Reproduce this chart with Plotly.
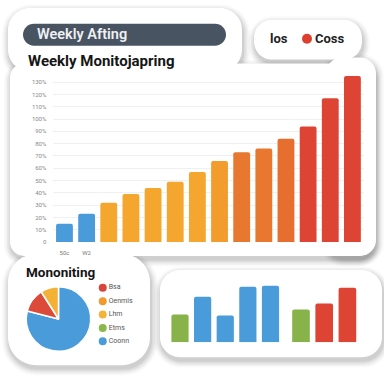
import plotly.graph_objects as go

W = 384

# ---------------- data ----------------
weeks = [f"W{i}" for i in range(1, 15)]
week_values = [15, 23, 32, 39, 44, 49, 57, 66, 73, 76, 84, 94, 117, 135]
week_ticktext = ["50c", "W2"] + [""] * 12
y_tickvals = [0, 10, 20, 30, 40, 50, 60, 70, 80, 90, 100, 110, 120, 130]
y_ticktext = ["0"] + [f"{v}%" for v in y_tickvals[1:]]

pie_labels = ["Coonn", "Bsa", "Lhm"]
pie_values = [79, 12, 9]

legend_labels = ["Bsa", "Oenmis", "Lhm", "Etms", "Coonn"]

small_a_cats = ["A1", "A2", "A3", "A4", "A5"]
small_a_values = [28, 46, 27, 56, 57]
small_b_cats = ["B1", "B2", "B3"]
small_b_values = [33, 39, 55]

header_text = "Weekly Afting"
title_text = "Weekly Monitojapring"
pie_title = "Mononiting"
top_legend = ["los", "Coss"]

# ---------------- styles ----------------
BLUE = "#4a9bd9"
YEL = "#f4a62f"
ORG = "#e8782f"
RED = "#dd4434"
GREEN = "#88b34b"
LEG_COLORS = ["#d9453a", "#f09a2e", "#f3b43a", "#8ab84a", "#4a9bd9"]
week_colors = [BLUE, BLUE, YEL, YEL, YEL, YEL, YEL, "#f19c2d", ORG, ORG, "#e66e2f", RED, RED, RED]
small_a_colors = [GREEN, BLUE, BLUE, BLUE, BLUE]
small_b_colors = [GREEN, RED, RED]


def X(px):
    return px / W


def Y(py):
    return 1 - py / W


def rrect(x0, y0, x1, y1, r):
    k = 0.5523 * r
    p = []
    p.append(f"M{X(x0 + r)},{Y(y0)}")
    p.append(f"L{X(x1 - r)},{Y(y0)}")
    p.append(f"C{X(x1 - r + k)},{Y(y0)} {X(x1)},{Y(y0 + r - k)} {X(x1)},{Y(y0 + r)}")
    p.append(f"L{X(x1)},{Y(y1 - r)}")
    p.append(f"C{X(x1)},{Y(y1 - r + k)} {X(x1 - r + k)},{Y(y1)} {X(x1 - r)},{Y(y1)}")
    p.append(f"L{X(x0 + r)},{Y(y1)}")
    p.append(f"C{X(x0 + r - k)},{Y(y1)} {X(x0)},{Y(y1 - r + k)} {X(x0)},{Y(y1 - r)}")
    p.append(f"L{X(x0)},{Y(y0 + r)}")
    p.append(f"C{X(x0)},{Y(y0 + r - k)} {X(x0 + r - k)},{Y(y0)} {X(x0 + r)},{Y(y0)}")
    p.append("Z")
    return " ".join(p)


cards = [
    (8, 8, 242, 72, 22),
    (10, 64, 372, 258, 14),
    (326, 58, 376, 258, 16),
    (254, 20, 362, 60, 18),
    (8, 256, 150, 368, 28),
    (160, 272, 382, 360, 20),
]

shapes = []
for (x0, y0, x1, y1, r) in cards:
    for e, a in [(7, 0.02), (5.5, 0.03), (4, 0.04), (2.5, 0.05), (1, 0.06)]:
        shapes.append(dict(type="path", xref="paper", yref="paper", layer="below",
                           path=rrect(x0 - e + 1, y0 - e + 3.5, x1 + e + 1, y1 + e + 3.5, r + e),
                           fillcolor=f"rgba(0,0,0,{a})", line=dict(width=0)))
for (x0, y0, x1, y1, r) in cards:
    shapes.append(dict(type="path", xref="paper", yref="paper", layer="below",
                       path=rrect(x0, y0, x1, y1, r), fillcolor="white", line=dict(width=0)))

# header pill
shapes.append(dict(type="path", xref="paper", yref="paper", layer="below",
                   path=rrect(23, 24, 226, 46, 11), fillcolor="#495463", line=dict(width=0)))
# top legend dot
shapes.append(dict(type="circle", xref="paper", yref="paper", layer="above",
                   x0=X(302), x1=X(312), y0=Y(44), y1=Y(34),
                   fillcolor="#dd3f2f", line=dict(width=0)))

fig = go.Figure()

# main weekly bars
fig.add_trace(go.Bar(x=weeks, y=week_values, marker=dict(color=week_colors, line=dict(width=0)),
                     xaxis="x", yaxis="y", showlegend=False, hoverinfo="skip"))

# pie
fig.add_trace(go.Pie(labels=pie_labels, values=pie_values, sort=False, direction="clockwise",
                     rotation=0, marker=dict(colors=[BLUE, "#dc4a3a", "#f3b135"],
                                             line=dict(color="white", width=1.5)),
                     textinfo="none", showlegend=False, hoverinfo="skip",
                     domain=dict(x=[X(26), X(91)], y=[Y(354), Y(289)])))

# pie legend
fig.add_trace(go.Scatter(x=[0] * len(legend_labels), y=list(range(len(legend_labels))),
                         mode="markers+text", text=legend_labels, textposition="middle right",
                         textfont=dict(size=7, color="#555", family="Roboto"),
                         marker=dict(size=8, color=LEG_COLORS),
                         xaxis="x2", yaxis="y2", showlegend=False, hoverinfo="skip"))

# small bars
fig.add_trace(go.Bar(x=small_a_cats, y=small_a_values, marker=dict(color=small_a_colors, line=dict(width=0)),
                     xaxis="x3", yaxis="y3", showlegend=False, hoverinfo="skip"))
fig.add_trace(go.Bar(x=small_b_cats, y=small_b_values, marker=dict(color=small_b_colors, line=dict(width=0)),
                     xaxis="x4", yaxis="y4", showlegend=False, hoverinfo="skip"))

hidden = dict(visible=False, showgrid=False, zeroline=False, fixedrange=True)

annotations = [
    dict(text=header_text, x=X(35), y=Y(35), xref="paper", yref="paper", xanchor="left", yanchor="middle",
         showarrow=False, font=dict(family="Roboto", size=14.5, color="#eef0f2", weight=600)),
    dict(text=title_text, x=X(26), y=Y(61), xref="paper", yref="paper", xanchor="left", yanchor="middle",
         showarrow=False, font=dict(family="Roboto", size=15, color="#151515", weight="bold")),
    dict(text=top_legend[0], x=X(268), y=Y(39), xref="paper", yref="paper", xanchor="left", yanchor="middle",
         showarrow=False, font=dict(family="Roboto", size=13, color="#222", weight="bold")),
    dict(text=top_legend[1], x=X(313), y=Y(39), xref="paper", yref="paper", xanchor="left", yanchor="middle",
         showarrow=False, font=dict(family="Roboto", size=13, color="#222", weight="bold")),
    dict(text=pie_title, x=X(24), y=Y(274), xref="paper", yref="paper", xanchor="left", yanchor="middle",
         showarrow=False, font=dict(family="Roboto", size=13.5, color="#151515", weight="bold")),
]

fig.update_layout(
    width=W, height=W, margin=dict(l=0, r=0, t=0, b=0),
    paper_bgcolor="white", plot_bgcolor="rgba(0,0,0,0)",
    bargap=0.24, barcornerradius=2,
    shapes=shapes, annotations=annotations,
    xaxis=dict(domain=[X(53.4), X(363.5)], tickvals=weeks, ticktext=week_ticktext,
               tickfont=dict(size=6, color="#777", family="Roboto"), showgrid=False, zeroline=False,
               showline=False, ticks="", ticklabelstandoff=6, fixedrange=True, anchor="y"),
    yaxis=dict(domain=[Y(244), Y(70.4)], range=[0, 140], tickvals=y_tickvals, ticktext=y_ticktext,
               tickfont=dict(size=6, color="#888", family="Roboto"), showgrid=True, gridcolor="#f0f0f0",
               gridwidth=1, zeroline=False, showline=False, ticks="", ticklabelstandoff=6,
               fixedrange=True, anchor="x"),
    xaxis2=dict(domain=[X(98), X(150)], range=[-0.5, 5], anchor="y2", **hidden),
    yaxis2=dict(domain=[Y(350.75), Y(283.25)], range=[4.5, -0.5], anchor="x2", **hidden),
    xaxis3=dict(domain=[X(168.7), X(281.8)], anchor="y3", **hidden),
    yaxis3=dict(domain=[Y(345), Y(285)], range=[0, 60], anchor="x3", **hidden),
    xaxis4=dict(domain=[X(289.4), X(359)], anchor="y4", **hidden),
    yaxis4=dict(domain=[Y(345), Y(285)], range=[0, 60], anchor="x4", **hidden),
)

fig.write_html(
    "out.html",
    config={"displayModeBar": False, "staticPlot": True},
    post_script="document.body.style.margin='0';document.body.style.padding='0';document.body.style.overflow='hidden';",
)
